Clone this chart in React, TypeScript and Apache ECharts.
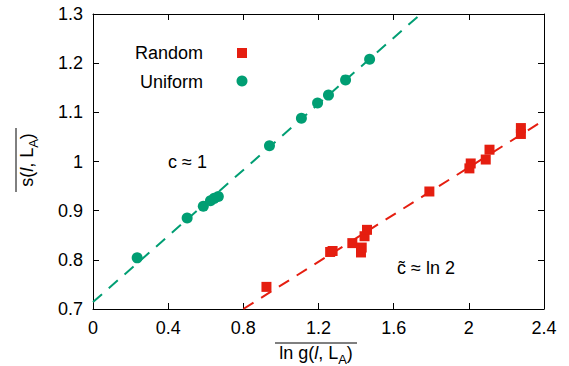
import React, { useEffect, useRef } from "react";
import * as echarts from "echarts";

const uniformX = [0.235, 0.501, 0.587, 0.625, 0.645, 0.667, 0.939, 1.109, 1.195, 1.253, 1.344, 1.472];
const uniformY = [0.804, 0.885, 0.909, 0.920, 0.925, 0.929, 1.032, 1.088, 1.119, 1.135, 1.166, 1.208];

const randomX = [0.923, 1.262, 1.275, 1.380, 1.426, 1.430, 1.445, 1.458, 1.790, 2.003, 2.010, 2.090, 2.110, 2.277, 2.277];
const randomY = [0.745, 0.816, 0.818, 0.834, 0.815, 0.825, 0.848, 0.861, 0.939, 0.986, 0.996, 1.004, 1.024, 1.056, 1.068];

const uniformFitX = [0, 1.744];
const uniformFitY = [0.714, 1.3];
const randomFitX = [0.8, 2.4];
const randomFitY = [0.7, 1.084];

const GREEN = "#009e73";
const RED = "#e51e10";
const FONT = "'Liberation Sans', Arial, sans-serif";

const zip = (xs: number[], ys: number[]) => xs.map((x, i) => [x, ys[i]]);

export default function App() {
  const ref = useRef<HTMLDivElement>(null);
  useEffect(() => {
    const chart = echarts.init(ref.current!, null, { renderer: "svg" });
    const axisLine = { show: true, onZero: false, lineStyle: { color: "#000", width: 1 } };
    const axisTick = { show: true, inside: true, length: 6, lineStyle: { color: "#000", width: 1 } };
    const label = { color: "#000", fontSize: 18, fontFamily: FONT, margin: 10 };
    const titleRich = {
      n: { fontSize: 18, fontFamily: FONT, color: "#000", lineHeight: 22 },
      i: { fontSize: 18, fontFamily: FONT, fontStyle: "italic", color: "#000", lineHeight: 22 },
      s: { fontSize: 13, fontFamily: FONT, color: "#000", lineHeight: 13, verticalAlign: "bottom", padding: [0, 0, -2, 0] },
    };
    chart.setOption({
      animation: false,
      grid: { left: 93, right: 25, top: 14, bottom: 57 },
      xAxis: [
        { type: "value", min: 0, max: 2.4, interval: 0.4, position: "bottom", axisLine, axisTick, axisLabel: label, splitLine: { show: false } },
        { type: "value", min: 0, max: 2.4, interval: 0.4, position: "top", axisLine, axisTick, axisLabel: { show: false }, splitLine: { show: false } },
      ],
      yAxis: [
        { type: "value", min: 0.7, max: 1.3, interval: 0.1, position: "left", axisLine, axisTick, axisLabel: label, splitLine: { show: false } },
        { type: "value", min: 0.7, max: 1.3, interval: 0.1, position: "right", axisLine, axisTick, axisLabel: { show: false }, splitLine: { show: false } },
      ],
      series: [
        {
          type: "line", data: zip(uniformFitX, uniformFitY), showSymbol: false, symbol: "none",
          lineStyle: { color: GREEN, width: 2, type: [12, 9] }, z: 1,
        },
        {
          type: "line", data: zip(randomFitX, randomFitY), showSymbol: false, symbol: "none",
          lineStyle: { color: RED, width: 2, type: [12, 9] }, z: 1,
        },
        {
          name: "Uniform", type: "scatter", data: zip(uniformX, uniformY), symbol: "circle", symbolSize: 11,
          itemStyle: { color: GREEN, opacity: 1 }, z: 3,
        },
        {
          name: "Random", type: "scatter", data: zip(randomX, randomY), symbol: "rect", symbolSize: 10,
          itemStyle: { color: RED, opacity: 1 }, z: 3,
        },
      ],
      graphic: [
        { type: "text", x: 203, y: 53, style: { text: "Random", fontSize: 18, fontFamily: FONT, fill: "#000", textAlign: "right", textVerticalAlign: "middle" } },
        { type: "rect", shape: { x: 237, y: 48, width: 10, height: 10 }, style: { fill: RED } },
        { type: "text", x: 203, y: 82, style: { text: "Uniform", fontSize: 18, fontFamily: FONT, fill: "#000", textAlign: "right", textVerticalAlign: "middle" } },
        { type: "circle", shape: { cx: 242, cy: 81, r: 5.5 }, style: { fill: GREEN } },
        { type: "text", x: 168, y: 162, style: { text: "c ≈ 1", fontSize: 18, fontFamily: FONT, fill: "#000", textAlign: "left", textVerticalAlign: "middle" } },
        { type: "text", x: 397, y: 268, style: { text: "c\u0303 ≈ ln 2", fontSize: 18, fontFamily: FONT, fill: "#000", textAlign: "left", textVerticalAlign: "middle" } },
        {
          type: "group", x: 316, y: 353,
          children: [
            { type: "text", x: 0, y: 0, style: { text: "{n|ln g(}{i|l}{n|, L}{s|A}{n|)}", rich: titleRich, textAlign: "center", textVerticalAlign: "middle" } },
            { type: "line", shape: { x1: -41, y1: -10, x2: 41, y2: -10 }, style: { stroke: "#000", lineWidth: 1 } },
          ],
        },
        {
          type: "group", x: 27, y: 160, rotation: Math.PI / 2,
          children: [
            { type: "text", x: 0, y: 0, style: { text: "{n|s(}{i|l}{n|, L}{s|A}{n|)}", rich: titleRich, textAlign: "center", textVerticalAlign: "middle" } },
            { type: "line", shape: { x1: -32, y1: -11, x2: 32, y2: -11 }, style: { stroke: "#000", lineWidth: 1 } },
          ],
        },
      ],
    });
    return () => chart.dispose();
  }, []);
  return <div ref={ref} style={{ width: 569, height: 366, position: "absolute", left: 0, top: 0 }} />;
}
